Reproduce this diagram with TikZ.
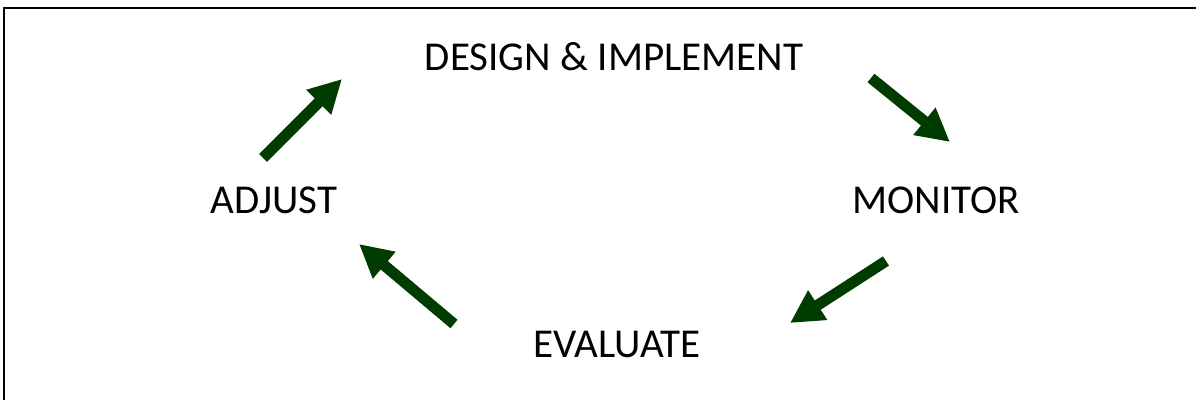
\documentclass[tikz,border=0pt]{standalone}
\usepackage{fontspec}
\setmainfont{Carlito}
\usetikzlibrary{arrows.meta}
\definecolor{arrowgreen}{RGB}{0,60,0}
\tikzset{
  stage/.style={anchor=base, inner sep=0pt, font=\fontsize{41}{41}\selectfont},
  blockarrow/.style={draw=arrowgreen, line width=11pt, line cap=butt,
    -{Triangle[length=33pt,width=33pt]}, arrowgreen},
  frame/.style={draw=black, line width=2pt}
}
\begin{document}
\begin{tikzpicture}[x=1pt,y=-1pt]
  \useasboundingbox (0,0) rectangle (1196,399);
  \begin{scope}
    \clip (0,0) rectangle (1196,399);
    \draw[frame] (4,8) rectangle (1210,410);
  \end{scope}

  % stages of the cycle
  \node[stage] (design)   at (614,70)  {DESIGN \& IMPLEMENT};
  \node[stage] (monitor)  at (936,213) {MONITOR};
  \node[stage] (evaluate) at (617,357) {EVALUATE};
  \node[stage] (adjust)   at (274,213) {ADJUST};

  % arrow end points
  \coordinate (dm1) at (871,78);  \coordinate (dm2) at (950,142);
  \coordinate (me1) at (886,261); \coordinate (me2) at (790,323);
  \coordinate (ea1) at (454,324); \coordinate (ea2) at (359,244);
  \coordinate (ad1) at (263,158); \coordinate (ad2) at (342,79);

  \draw[blockarrow] (dm1) -- (dm2);
  \draw[blockarrow] (me1) -- (me2);
  \draw[blockarrow] (ea1) -- (ea2);
  \draw[blockarrow] (ad1) -- (ad2);
\end{tikzpicture}
\end{document}
